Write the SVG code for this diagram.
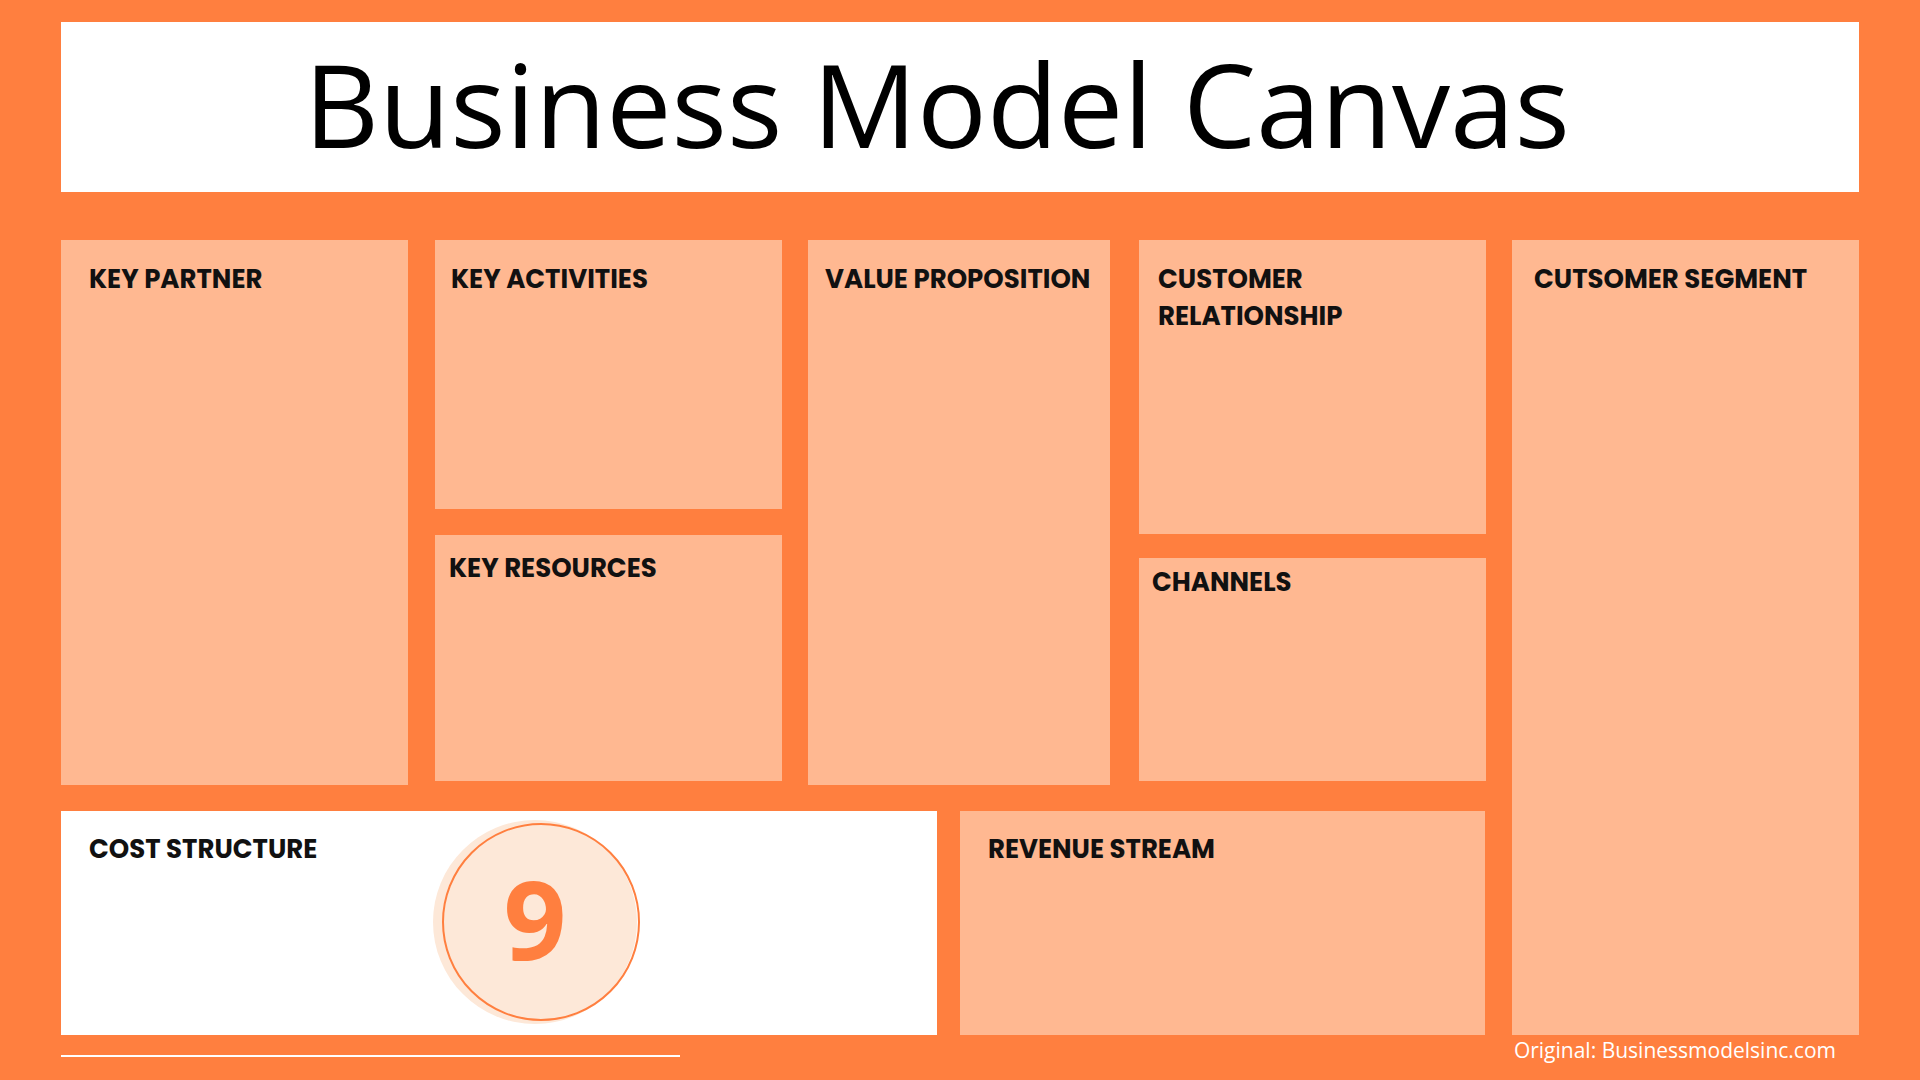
<svg xmlns="http://www.w3.org/2000/svg" width="1920" height="1080" viewBox="0 0 1920 1080">
<style>
.b{fill:#FFB891}
.w{fill:#FFFFFF}
.l{font-family:"Poppins","Open Sans","Liberation Sans",sans-serif;font-weight:700;font-size:26px;fill:#111}
</style>
<rect width="1920" height="1080" fill="#FF7F3F"/>
<g id="title"><rect class="w" x="61" y="22" width="1798" height="170"/>
<text x="937" y="148" text-anchor="middle" font-family="Open Sans, Liberation Sans, sans-serif" font-weight="500" font-size="116" fill="#000" textLength="1266" lengthAdjust="spacingAndGlyphs">Business Model Canvas</text></g>
<g id="key-partner"><rect class="b" x="61" y="240" width="347" height="545"/><text class="l" x="89" y="288">KEY PARTNER</text></g>
<g id="key-activities"><rect class="b" x="435" y="240" width="347" height="269"/><text class="l" x="451" y="288">KEY ACTIVITIES</text></g>
<g id="key-resources"><rect class="b" x="435" y="535" width="347" height="246"/><text class="l" x="449" y="577">KEY RESOURCES</text></g>
<g id="value-proposition"><rect class="b" x="808" y="240" width="302" height="545"/><text class="l" x="825" y="288">VALUE PROPOSITION</text></g>
<g id="customer-relationship"><rect class="b" x="1139" y="240" width="347" height="294"/><text class="l" x="1158" y="288">CUSTOMER</text><text class="l" x="1158" y="325">RELATIONSHIP</text></g>
<g id="channels"><rect class="b" x="1139" y="558" width="347" height="223"/><text class="l" x="1152" y="591">CHANNELS</text></g>
<g id="customer-segment"><rect class="b" x="1512" y="240" width="347" height="795"/><text class="l" x="1534" y="288">CUTSOMER SEGMENT</text></g>
<g id="cost-structure"><rect class="w" x="61" y="811" width="876" height="224"/><text class="l" x="89" y="858">COST STRUCTURE</text>
<circle cx="535" cy="922" r="102" fill="#FDE8D8"/>
<circle cx="541" cy="922" r="98" fill="none" stroke="#FF7F3F" stroke-width="2"/>
<text x="535" y="960" text-anchor="middle" font-family="Open Sans, Liberation Sans, sans-serif" font-weight="700" font-size="110" fill="#FF7F3F">9</text></g>
<g id="revenue-stream"><rect class="b" x="960" y="811" width="525" height="224"/><text class="l" x="988" y="858">REVENUE STREAM</text></g>
<g id="footer"><line x1="61" y1="1056" x2="680" y2="1056" stroke="#fff" stroke-width="2"/>
<text x="1836" y="1058" text-anchor="end" font-family="Open Sans, Liberation Sans, sans-serif" font-size="21" fill="#fff">Original: Businessmodelsinc.com</text></g>
</svg>
